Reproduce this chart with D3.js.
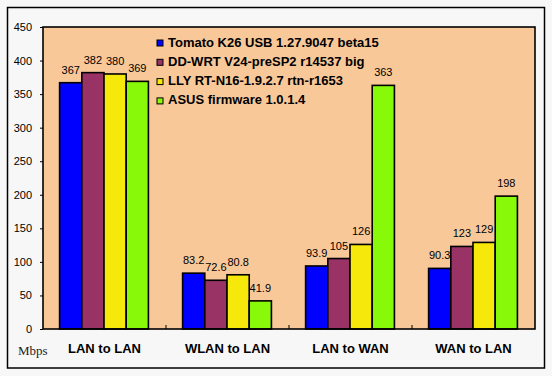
<!DOCTYPE html>
<html>
<head>
<meta charset="utf-8">
<script src="https://cdn.jsdelivr.net/npm/d3@7"></script>
<style>
  body { margin: 0; background: #f7f7f7; }
  svg { display: block; }
</style>
</head>
<body>
<div id="chart-area"></div>
<script>
// Data
const categories = ['LAN to LAN', 'WLAN to LAN', 'LAN to WAN', 'WAN to LAN'];
const seriesNames = [
    'Tomato K26 USB 1.27.9047 beta15',
    'DD-WRT V24-preSP2 r14537 big',
    'LLY RT-N16-1.9.2.7 rtn-r1653',
    'ASUS firmware 1.0.1.4'
];
const tomato = [367, 83.2, 93.9, 90.3];
const ddwrt = [382, 72.6, 105, 123];
const lly = [380, 80.8, 126, 129];
const asus = [369, 41.9, 363, 198];
const yTicks = [0, 50, 100, 150, 200, 250, 300, 350, 400, 450];
const colors = ['#0000ff', '#993366', '#f5e80a', '#88f908'];

const seriesValues = [tomato, ddwrt, lly, asus];

// Margins
const margin = { left: 43, right: 17, top: 27, bottom: 47 };
const width = 552 - margin.left - margin.right;
const height = 376 - margin.top - margin.bottom;

const svg = d3.select('#chart-area')
    .append('svg')
    .attr('width', 552)
    .attr('height', 376);

// Outer frame
svg.append('rect')
    .attr('x', 7.5)
    .attr('y', 7.5)
    .attr('width', 537)
    .attr('height', 360.5)
    .attr('fill', '#f7f7f7')
    .attr('stroke', '#000')
    .attr('stroke-width', 1.5);

const g = svg.append('g')
    .attr('transform', 'translate(' + margin.left + ', ' + margin.top + ')');

// Plot background
g.append('rect')
    .attr('width', width)
    .attr('height', height)
    .attr('fill', '#f8c899');

// Scales
const x0 = d3.scaleBand()
    .domain(categories)
    .range([0, width]);

const bw = x0.bandwidth();
const x1 = d3.scaleBand()
    .domain(seriesNames)
    .range([bw * 0.135, bw * 0.857]);

const y = d3.scaleLinear()
    .domain([0, 450])
    .range([height, 0]);

// Y Axis
const yAxisCall = d3.axisLeft(y)
    .tickValues(yTicks)
    .tickSize(3)
    .tickPadding(8);
const yAxis = g.append('g')
    .attr('class', 'y axis')
    .call(yAxisCall);
yAxis.select('.domain').remove();
yAxis.selectAll('line').attr('stroke', '#000').attr('stroke-width', 1);
yAxis.selectAll('text')
    .attr('font-family', 'Liberation Sans, Arial, sans-serif')
    .attr('font-size', '11px')
    .attr('fill', '#000');

// X ticks (inward, at category boundaries)
g.selectAll('.xtick')
    .data(categories.slice(1))
    .enter()
    .append('line')
    .attr('x1', (d) => x0(d))
    .attr('x2', (d) => x0(d))
    .attr('y1', height)
    .attr('y2', height - 4)
    .attr('stroke', '#000')
    .attr('stroke-width', 1);

// Bars
const groups = g.selectAll('.group')
    .data(categories)
    .enter()
    .append('g')
    .attr('transform', (d) => 'translate(' + x0(d) + ', 0)');

groups.selectAll('rect')
    .data((d, i) => seriesNames.map((s, j) => ({ s: s, j: j, v: seriesValues[j][i] })))
    .enter()
    .append('rect')
    .attr('x', (d) => x1(d.s))
    .attr('y', (d) => y(d.v))
    .attr('width', x1.bandwidth())
    .attr('height', (d) => height - y(d.v))
    .attr('fill', (d) => colors[d.j])
    .attr('stroke', '#000')
    .attr('stroke-width', 1.6);

// Value labels
groups.selectAll('.val')
    .data((d, i) => seriesNames.map((s, j) => ({ s: s, j: j, v: seriesValues[j][i] })))
    .enter()
    .append('text')
    .attr('x', (d) => x1(d.s) + x1.bandwidth() / 2)
    .attr('y', (d) => y(d.v) - 9)
    .attr('text-anchor', 'middle')
    .attr('font-family', 'Liberation Sans, Arial, sans-serif')
    .attr('font-size', '11px')
    .text((d) => d.v);

// Plot border
g.append('rect')
    .attr('width', width)
    .attr('height', height)
    .attr('fill', 'none')
    .attr('stroke', '#000')
    .attr('stroke-width', 1.6);

// Category labels
g.selectAll('.cat')
    .data(categories)
    .enter()
    .append('text')
    .attr('x', (d) => x0(d) + bw / 2)
    .attr('y', height + 24)
    .attr('text-anchor', 'middle')
    .attr('font-family', 'Liberation Sans, Arial, sans-serif')
    .attr('font-weight', 'bold')
    .attr('font-size', '13px')
    .text((d) => d);

// Unit label
svg.append('text')
    .attr('x', 18)
    .attr('y', 355)
    .attr('font-family', 'Liberation Serif, Times New Roman, serif')
    .attr('font-size', '13px')
    .attr('fill', '#222')
    .text('Mbps');

// Legend
const legend = svg.append('g')
    .attr('transform', 'translate(157, 46.5)');

const items = legend.selectAll('.item')
    .data(seriesNames)
    .enter()
    .append('g')
    .attr('transform', (d, i) => 'translate(0, ' + (i * 19.3) + ')');

items.append('rect')
    .attr('x', 0)
    .attr('y', -6.5)
    .attr('width', 6)
    .attr('height', 6)
    .attr('fill', (d, i) => colors[i])
    .attr('stroke', '#000')
    .attr('stroke-width', 1);

items.append('text')
    .attr('x', 11)
    .attr('y', 0)
    .attr('font-family', 'Liberation Sans, Arial, sans-serif')
    .attr('font-weight', 'bold')
    .attr('font-size', '13px')
    .text((d) => d);
</script>
</body>
</html>
